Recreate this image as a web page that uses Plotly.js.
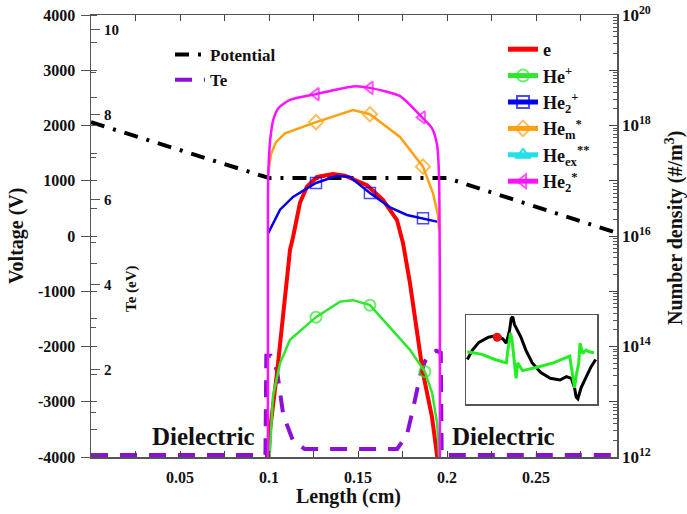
<!DOCTYPE html>
<html><head><meta charset="utf-8">
<script src="https://cdn.plot.ly/plotly-3.0.1.min.js"></script>
<style>body{margin:0;background:#fff}#c{width:687px;height:514px}</style>
</head><body><div id="c"></div>
<script>
// ---- data ----
const potX = [0, 0.1, 0.2, 0.295];
const potV = [2060, 1050, 1050, 60];

const teX = [0, 0.098, 0.0985, 0.101, 0.1045, 0.108, 0.1135, 0.12, 0.172, 0.1775, 0.181, 0.185, 0.1876, 0.190, 0.194, 0.1965, 0.197, 0.2, 0.295];
const teY = [0, 0, 2.33, 2.33, 1.98, 0.94, 0.33, 0.14, 0.14, 0.47, 1.1, 1.88, 2.2, 2.35, 2.45, 2.4, 0, 0, 0];

const eX = [0.0994, 0.1006, 0.1045, 0.109, 0.1118, 0.1135, 0.1174, 0.1213, 0.127, 0.136, 0.1427, 0.155, 0.164, 0.1719, 0.1753, 0.1792, 0.1831, 0.1865, 0.1916, 0.1944, 0.1955];
const eN = [6.3e11, 3.1e12, 3.3e13, 6.9e14, 5.6e15, 9.5e15, 4.0e16, 7.8e16, 1.17e17, 1.32e17, 1.23e17, 8.3e16, 4.5e16, 1.95e16, 7.4e15, 1.4e15, 1.7e14, 3.3e13, 5.2e12, 1.35e12, 5.8e11];

const hepX = [0.0997, 0.1006, 0.1022, 0.1062, 0.1118, 0.1264, 0.1399, 0.1472, 0.1567, 0.168, 0.1792, 0.1876, 0.1916, 0.1944, 0.1955, 0.196];
const hepN = [6.3e11, 1.35e12, 1.23e13, 5.0e13, 1.32e14, 3.4e14, 6.5e14, 6.9e14, 5.6e14, 2.2e14, 8.7e13, 3.5e13, 1.45e13, 4.2e12, 1.35e12, 5.8e11];
const hepMark = [5, 8, 11];

const he2pX = [0.0994, 0.1062, 0.1135, 0.1264, 0.1382, 0.1455, 0.1567, 0.168, 0.1775, 0.1865, 0.1949];
const he2pN = [1.1e16, 3.0e16, 5.1e16, 9.1e16, 1.23e17, 1.17e17, 6.0e16, 3.3e16, 2.4e16, 2.1e16, 1.8e16];
const he2pMark = [3, 6, 9];

const hemX = [0.0994, 0.1011, 0.1039, 0.109, 0.1264, 0.1472, 0.1567, 0.1736, 0.1865, 0.1921, 0.1949, 0.1955];
const hemN = [1.3e17, 3.0e17, 5.0e17, 7.2e17, 1.15e18, 1.9e18, 1.6e18, 6.2e17, 1.8e17, 6.0e16, 2.4e16, 1.3e16];
const hemMark = [4, 6, 8];

const he2sX = [0.0994, 0.0994, 0.0998, 0.1008, 0.1025, 0.1055, 0.1118, 0.1264, 0.1472, 0.1567, 0.1736, 0.186, 0.1916, 0.1944, 0.1955, 0.196, 0.196];
const he2sN = [3.2e11, 4.5e16, 2.0e17, 6.0e17, 1.3e18, 2.1e18, 2.9e18, 3.7e18, 5.1e18, 4.8e18, 3.4e18, 1.4e18, 8.9e17, 4.5e17, 1.3e17, 6.9e14, 3.2e11];
const he2sMark = [7, 9, 11];

// inset (arbitrary units)
const insBlackX = [0, 0.04, 0.09, 0.165, 0.228, 0.278, 0.304, 0.329, 0.342, 0.354, 0.367, 0.392, 0.418, 0.456, 0.506, 0.570, 0.646, 0.722, 0.772, 0.810, 0.835, 0.848, 0.861, 0.886, 0.924, 0.962, 1.0];
const insBlackY = [0.5, 0.61, 0.70, 0.76, 0.78, 0.74, 0.69, 0.84, 0.98, 1.0, 0.91, 0.83, 0.76, 0.61, 0.46, 0.35, 0.28, 0.26, 0.30, 0.28, 0.17, 0.06, 0.04, 0.17, 0.30, 0.41, 0.50];
const insGreenX = [0, 0.114, 0.215, 0.304, 0.316, 0.337, 0.349, 0.367, 0.380, 0.392, 0.405, 0.430, 0.544, 0.671, 0.797, 0.823, 0.835, 0.848, 0.868, 0.878, 0.899, 0.924, 0.949, 0.987];
const insGreenY = [0.59, 0.56, 0.50, 0.46, 0.61, 0.81, 0.72, 0.50, 0.28, 0.46, 0.43, 0.37, 0.41, 0.46, 0.54, 0.31, 0.17, 0.31, 0.46, 0.69, 0.57, 0.61, 0.59, 0.58];
const insDotX = [0.233];
const insDotY = [0.76];

// tick labels
const xTickVals = [0, 0.05, 0.1, 0.15, 0.2, 0.25];
const xTickText = ['0', '0.05', '0.1', '0.15', '0.2', '0.25'];
const vTickVals = [-4000, -3000, -2000, -1000, 0, 1000, 2000, 3000, 4000];
const vTickText = ['-4000', '-3000', '-2000', '-1000', '0', '1000', '2000', '3000', '4000'];
const teTickVals = [0, 2, 4, 6, 8, 10];
const teTickText = ['0', '2', '4', '6', '8', '10'];
const densTickVals = [1e12, 1e13, 1e14, 1e15, 1e16, 1e17, 1e18, 1e19, 1e20];
const densTickText = ['10<sup>12</sup>', '', '10<sup>14</sup>', '', '10<sup>16</sup>', '', '10<sup>18</sup>', '', '10<sup>20</sup>'];

// ---- layout helpers ----
const L = 91, R = 617, T = 15, B = 457;
const px = v => (v - L) / (R - L);
const py = v => 1 - (v - T) / (B - T);
const serif = 'Liberation Serif, Times New Roman, serif';
const bold = arr => arr.map(s => s ? '<b>' + s + '</b>' : '');
const sizes = (n, idx) => { const a = new Array(n).fill(0); idx.forEach(i => a[i] = 11); return a; };
const minorLog = [];
for (let e = 12; e < 20; e++) for (let m = 2; m <= 9; m++) minorLog.push(m * Math.pow(10, e));

const traces = [
  {x: potX, y: potV, xaxis: 'x', yaxis: 'y', mode: 'lines', name: 'Potential', legend: 'legend',
   line: {color: '#000', width: 4, dash: '14px,9px,3px,9px'}},
  {x: teX, y: teY, xaxis: 'x', yaxis: 'y2', mode: 'lines', name: 'Te', legend: 'legend',
   line: {color: '#8b0fd6', width: 4, dash: '17px,12px'}},
  {x: eX, y: eN, xaxis: 'x', yaxis: 'y3', mode: 'lines', name: 'e', legend: 'legend2',
   line: {color: '#ff0000', width: 4}},
  {x: hepX, y: hepN, xaxis: 'x', yaxis: 'y3', mode: 'lines+markers', name: 'He<sup>+</sup>', legend: 'legend2',
   line: {color: '#2ee62e', width: 2.5}, marker: {symbol: 'circle-open', size: sizes(hepX.length, hepMark), color: '#2ee62e', line: {width: 2}}},
  {x: he2pX, y: he2pN, xaxis: 'x', yaxis: 'y3', mode: 'lines+markers', name: 'He<sub>2</sub><sup>+</sup>', legend: 'legend2',
   line: {color: '#0000ee', width: 2.5}, marker: {symbol: 'square-open', size: sizes(he2pX.length, he2pMark), color: '#0000ee', line: {width: 1.5}}},
  {x: hemX, y: hemN, xaxis: 'x', yaxis: 'y3', mode: 'lines+markers', name: 'He<sub>m</sub><sup>*</sup>', legend: 'legend2',
   line: {color: '#ffa010', width: 2.5}, marker: {symbol: 'diamond-open', size: sizes(hemX.length, hemMark), color: '#ffa010', line: {width: 2}}},
  {x: [null], y: [null], xaxis: 'x', yaxis: 'y3', mode: 'lines+markers', name: 'He<sub>ex</sub><sup>**</sup>', legend: 'legend2',
   line: {color: '#22e0e8', width: 2.5}, marker: {symbol: 'triangle-up-open', size: 11, color: '#22e0e8', line: {width: 2}}},
  {x: he2sX, y: he2sN, xaxis: 'x', yaxis: 'y3', mode: 'lines+markers', name: 'He<sub>2</sub><sup>*</sup>', legend: 'legend2',
   line: {color: '#ff10ff', width: 2.5, shape: 'spline', smoothing: 0.6}, marker: {symbol: 'triangle-left-open', size: sizes(he2sX.length, he2sMark), color: '#ff10ff', line: {width: 2}}},
  {x: insBlackX, y: insBlackY, xaxis: 'x4', yaxis: 'y4', mode: 'lines', showlegend: false, line: {color: '#000', width: 3}},
  {x: insGreenX, y: insGreenY, xaxis: 'x4', yaxis: 'y4', mode: 'lines', showlegend: false, line: {color: '#22ee22', width: 3}},
  {x: insDotX, y: insDotY, xaxis: 'x4', yaxis: 'y4', mode: 'markers', showlegend: false, marker: {color: '#ee1111', size: 9}}
];

const tickFont = {family: serif, size: 16, color: '#111', weight: 'bold'};
const ann = (text, x, y, size, angle) => ({text: '<b>' + text + '</b>', xref: 'paper', yref: 'paper', x: px(x), y: py(y), xanchor: 'center', yanchor: 'middle',
  textangle: angle || 0, showarrow: false, font: {family: serif, size, color: '#111', weight: 'bold'}});
const layout = {
  width: 687, height: 514,
  margin: {l: L, r: 687 - R, t: T, b: 514 - B},
  paper_bgcolor: '#fff', plot_bgcolor: '#fff',
  showlegend: true,
  xaxis: {range: [0, 0.2955], tickvals: xTickVals, ticktext: bold(xTickText),
          ticks: 'inside', ticklen: 6, tickcolor: '#444', showline: true, linecolor: '#555', linewidth: 1.5, mirror: 'ticks',
          minor: {tickvals: [0.025, 0.075, 0.125, 0.175, 0.225, 0.275], ticks: 'inside', ticklen: 6, tickcolor: '#444'},
          ticklabelstandoff: 5,
          showgrid: false, zeroline: false, tickfont: tickFont},
  yaxis: {range: [-4000, 4000], tickvals: vTickVals, ticktext: bold(vTickText), ticks: 'outside', ticklen: 9, tickcolor: '#555', showline: true, linecolor: '#555', linewidth: 1.5,
          minor: {dtick: 500, ticks: 'inside', ticklen: 6, tickcolor: '#555'}, ticklabelstandoff: 2,
          showgrid: false, zeroline: false, tickfont: tickFont},
  yaxis2: {overlaying: 'y', side: 'left', anchor: 'x', range: [-0.05, 10.35], tickvals: teTickVals, ticktext: bold(teTickText),
           ticks: 'inside', ticklen: 9, tickcolor: '#555', ticklabelposition: 'inside', showline: false, ticklabelstandoff: 4,
           minor: {tickvals: [1, 3, 5, 7, 9], ticks: 'inside', ticklen: 5, tickcolor: '#555'},
           showgrid: false, zeroline: false, tickfont: {family: serif, size: 15, color: '#111', weight: 'bold'}},
  yaxis3: {overlaying: 'y', side: 'right', anchor: 'x', type: 'log', range: [12, 20], tickvals: densTickVals, ticktext: bold(densTickText),
           ticks: 'inside', ticklen: 8, tickcolor: '#444', showline: true, linecolor: '#555', linewidth: 1.5,
           minor: {tickvals: minorLog, ticks: 'inside', ticklen: 4, tickcolor: '#555'},
           showgrid: false, zeroline: false, tickfont: {family: serif, size: 17, color: '#111', weight: 'bold'}},
  xaxis4: {domain: [px(466), px(597)], anchor: 'y4', range: [-0.01, 1.01], showticklabels: false, ticks: '', showgrid: false, zeroline: false,
           showline: true, mirror: true, linecolor: '#555', linewidth: 1.5},
  yaxis4: {domain: [py(404), py(315)], anchor: 'x4', range: [-0.02, 1.02], showticklabels: false, ticks: '', showgrid: false, zeroline: false,
           showline: true, mirror: true, linecolor: '#555', linewidth: 1.5},
  legend: {x: px(170), y: py(37), xanchor: 'left', yanchor: 'top', bgcolor: 'rgba(0,0,0,0)',
           font: {family: serif, size: 17, color: '#111', weight: 'bold'}},
  legend2: {x: px(503), y: py(31), xanchor: 'left', yanchor: 'top', bgcolor: 'rgba(0,0,0,0)', itemsizing: 'constant',
            font: {family: serif, size: 18, color: '#111', weight: 'bold'}},
  annotations: [
    ann('Voltage (V)', 16, 236, 20, -90),
    ann('Te (eV)', 131, 289, 15, -90),
    ann('Number density (#/m<sup>3</sup>)', 674, 228, 20, -90),
    ann('Length (cm)', 348, 497, 20),
    ann('Dielectric', 203, 436, 25),
    ann('Dielectric', 503, 436, 25)
  ]
};
Plotly.newPlot('c', traces, layout, {displayModeBar: false, staticPlot: true});
</script></body></html>
